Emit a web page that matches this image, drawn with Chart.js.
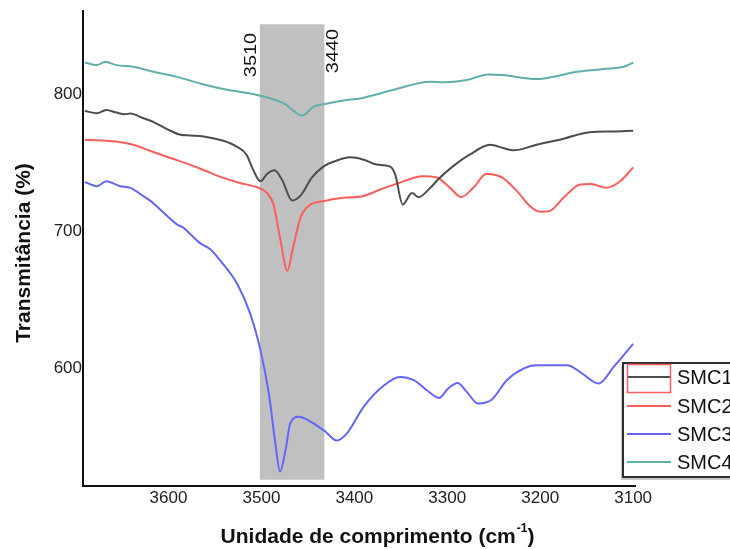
<!DOCTYPE html>
<html>
<head>
<meta charset="utf-8">
<script src="https://cdn.jsdelivr.net/npm/chart.js@4.4.0/dist/chart.umd.min.js"></script>
<style>
  html, body { margin: 0; padding: 0; background: #fff; }
  canvas { display: block; }
</style>
</head>
<body>
<canvas id="ftirChart" width="730" height="549"></canvas>
<script>
const seriesNames = ['SMC1', 'SMC2', 'SMC3', 'SMC4']

// wavenumbers (cm-1) and transmittance for each sample
const smc1Wn = [3690, 3677, 3667, 3656, 3647, 3641, 3629, 3616, 3602, 3587, 3577, 3562, 3541, 3527, 3516, 3509, 3501, 3494, 3486, 3478, 3467, 3457, 3446, 3433, 3419, 3405, 3390, 3376, 3362, 3356, 3348, 3338, 3331, 3319, 3310, 3294, 3276, 3254, 3240, 3229, 3204, 3175, 3147, 3122, 3100]
const smc1T = [788.1, 786.4, 788.8, 786.9, 785.7, 786.2, 783.3, 779.9, 775, 770.7, 770.2, 769.5, 766.3, 762.2, 756.1, 745.2, 736.7, 742, 744.7, 738, 722.7, 727, 739.2, 747.6, 751.8, 754.2, 752.5, 748.9, 747.6, 741.6, 719.8, 728.2, 725.1, 731.4, 738, 747.6, 756.1, 763.4, 761, 759.3, 763.4, 767.8, 772.6, 773.1, 773.6]

const smc2Wn = [3690, 3670, 3656, 3638, 3620, 3598, 3577, 3559, 3541, 3523, 3505, 3494, 3487, 3480, 3472, 3466, 3458, 3448, 3433, 3412, 3390, 3372, 3355, 3326, 3312, 3297, 3285, 3272, 3258, 3247, 3240, 3225, 3211, 3199, 3190, 3175, 3157, 3145, 3129, 3114, 3100]
const smc2T = [767, 766.5, 765.8, 763.4, 759, 753.7, 748.9, 744, 739.2, 735.5, 732.4, 728.2, 719.8, 695.5, 671.3, 688.2, 710, 719.3, 722.2, 724.6, 726, 730.7, 734.8, 740.4, 739.6, 731.9, 725.1, 731.9, 742, 741.1, 739, 729.5, 718.5, 714.4, 714.9, 724.6, 734.4, 734.8, 731.9, 736.7, 746.9]

const smc3Wn = [3690, 3677, 3667, 3652, 3641, 3627, 3619, 3609, 3591, 3584, 3577, 3566, 3555, 3544, 3526, 3512, 3501, 3492, 3485, 3480, 3474, 3469, 3460, 3444, 3431, 3419, 3408, 3390, 3368, 3351, 3336, 3322, 3309, 3299, 3289, 3279, 3267, 3252, 3236, 3218, 3204, 3171, 3157, 3137, 3121, 3100]
const smc3T = [736.2, 733.1, 736.7, 733.1, 731.9, 725.8, 722.2, 716.1, 705.2, 702.8, 698.4, 691.5, 687.1, 678.5, 661.6, 639.8, 613.1, 581.6, 545.2, 524.6, 540.4, 559.8, 564.6, 559.8, 553.7, 547.2, 552.5, 571.9, 587.6, 593.7, 591.3, 584, 578.4, 585.2, 589.3, 582.8, 574.3, 577.2, 591.3, 599.8, 602.2, 602.2, 597.3, 588.9, 601, 617.9]

const smc4Wn = [3690, 3677, 3668, 3656, 3638, 3616, 3591, 3566, 3541, 3505, 3476, 3456, 3444, 3433, 3415, 3390, 3355, 3319, 3304, 3279, 3256, 3240, 3204, 3186, 3161, 3132, 3110, 3100]
const smc4T = [823.5, 821.6, 824, 821.6, 820.4, 816.7, 813, 808.2, 804.1, 799.8, 793.7, 784.7, 791.3, 793, 795.4, 797.8, 804.1, 809.5, 809, 810.7, 814.8, 814.3, 811.4, 813.1, 816.7, 818.7, 820.4, 823.3]

// highlighted O-H region
const bandRange = [3502, 3432]
const bandSpan = [518.5, 851.5]
const bandLabels = ['3510', '3440']

const xTicks = [3600, 3500, 3400, 3300, 3200, 3100]
const yTicks = [600, 700, 800]

const FONT = "'Liberation Sans', Arial, sans-serif"
const colors = ['#4d4d4d', '#ff5c5c', '#6464ff', '#5fb0ad']

function toPoints(wn, t) {
    return wn.map((w, i) => ({ x: w, y: t[i] }))
}

const series = [
    toPoints(smc1Wn, smc1T),
    toPoints(smc2Wn, smc2T),
    toPoints(smc3Wn, smc3T),
    toPoints(smc4Wn, smc4T)
]

const datasets = series.map((pts, i) => ({
    label: seriesNames[i],
    data: pts,
    borderColor: colors[i],
    borderWidth: 2,
    pointRadius: 0,
    fill: false,
    cubicInterpolationMode: 'monotone',
    order: i
}))

datasets.push({
    label: 'band',
    data: [{ x: bandRange[0], y: bandSpan[1] }, { x: bandRange[1], y: bandSpan[1] }],
    borderWidth: 0,
    pointRadius: 0,
    backgroundColor: '#c0c0c0',
    fill: { value: bandSpan[0] },
    order: 10
})

const bandLabelPlugin = {
    id: 'bandLabels',
    afterDatasetsDraw(chart) {
        const ctx = chart.ctx
        const x = chart.scales.x
        const spots = [
            { px: x.getPixelForValue(bandRange[0]) - 9, py: 55 },
            { px: x.getPixelForValue(bandRange[1]) + 8, py: 51 }
        ]
        ctx.save()
        ctx.fillStyle = '#111'
        ctx.font = `16px ${FONT}`
        ctx.textAlign = 'center'
        ctx.textBaseline = 'middle'
        spots.forEach((s, i) => {
            ctx.save()
            ctx.translate(s.px, s.py)
            ctx.rotate(-Math.PI / 2)
            ctx.scale(1.25, 1)
            ctx.fillText(bandLabels[i], 0, 1)
            ctx.restore()
        })
        ctx.restore()
    }
}

const titlePlugin = {
    id: 'axisTitles',
    afterDraw(chart) {
        const ctx = chart.ctx
        ctx.save()
        ctx.fillStyle = '#111'
        ctx.textBaseline = 'middle'

        // y title
        ctx.save()
        ctx.translate(24, 253)
        ctx.rotate(-Math.PI / 2)
        ctx.font = `bold 21px ${FONT}`
        ctx.textAlign = 'center'
        ctx.fillText('Transmitância (%)', 0, 0)
        ctx.restore()

        // x title with superscript
        const main = 'Unidade de comprimento (cm'
        const sup = '-1'
        ctx.font = `bold 21px ${FONT}`
        const w1 = ctx.measureText(main).width
        const w3 = ctx.measureText(')').width
        ctx.font = `bold 12px ${FONT}`
        const w2 = ctx.measureText(sup).width
        const left = 377 - (w1 + w2 + w3) / 2
        const y = 537
        ctx.textAlign = 'left'
        ctx.font = `bold 21px ${FONT}`
        ctx.fillText(main, left, y)
        ctx.font = `bold 12px ${FONT}`
        ctx.fillText(sup, left + w1 + 1, y - 8)
        ctx.font = `bold 21px ${FONT}`
        ctx.fillText(')', left + w1 + w2 + 1, y)
        ctx.restore()
    }
}

const legendPlugin = {
    id: 'boxLegend',
    afterDraw(chart) {
        const ctx = chart.ctx
        const bx = 623, by = 363, bw = 130, bh = 114
        ctx.save()
        ctx.fillStyle = '#c8c8c8'
        ctx.fillRect(bx - 2, by + 3, bw, bh)
        ctx.fillStyle = '#fff'
        ctx.fillRect(bx, by, bw, bh)
        ctx.strokeStyle = '#2e2e2e'
        ctx.lineWidth = 2
        ctx.strokeRect(bx, by, bw, bh)

        const rows = [377, 406, 434, 462]
        ctx.font = `20px ${FONT}`
        ctx.textBaseline = 'middle'
        ctx.textAlign = 'left'
        chart.data.datasets.slice(0, seriesNames.length).forEach((ds, i) => {
            ctx.strokeStyle = ds.borderColor
            ctx.lineWidth = 2
            ctx.beginPath()
            ctx.moveTo(627, rows[i])
            ctx.lineTo(671, rows[i])
            ctx.stroke()
            ctx.fillStyle = '#111'
            ctx.fillText(ds.label, 677, rows[i] + 1)
        })
        // selection frame around first entry
        ctx.strokeStyle = '#ff5c5c'
        ctx.lineWidth = 1.5
        ctx.strokeRect(627.5, 364.5, 43, 28)
        ctx.restore()
    }
}

new Chart(document.getElementById('ftirChart'), {
    type: 'line',
    data: { datasets },
    options: {
        responsive: false,
        animation: false,
        devicePixelRatio: 1,
        layout: { padding: { left: 0, right: 95, top: 9, bottom: 0 } },
        plugins: {
            legend: { display: false },
            tooltip: { enabled: false }
        },
        scales: {
            x: {
                type: 'linear',
                reverse: true,
                min: 3098,
                max: 3692,
                afterBuildTicks: s => { s.ticks = xTicks.map(v => ({ value: v })) },
                afterFit: s => { s.height = 63 },
                grid: { display: false, drawTicks: false },
                border: { display: true, color: '#111', width: 2 },
                ticks: {
                    font: { family: FONT, size: 17 },
                    color: '#222',
                    padding: 2,
                    maxRotation: 0,
                    callback: v => String(v)
                }
            },
            y: {
                type: 'linear',
                min: 514,
                max: 861,
                afterBuildTicks: s => { s.ticks = yTicks.map(v => ({ value: v })) },
                afterFit: s => { s.width = 83 },
                grid: { display: false, drawTicks: false },
                border: { display: true, color: '#111', width: 2 },
                ticks: {
                    font: { family: FONT, size: 17 },
                    color: '#222',
                    padding: 1,
                    callback: v => String(v)
                }
            }
        }
    },
    plugins: [bandLabelPlugin, titlePlugin, legendPlugin]
})
</script>
</body>
</html>
